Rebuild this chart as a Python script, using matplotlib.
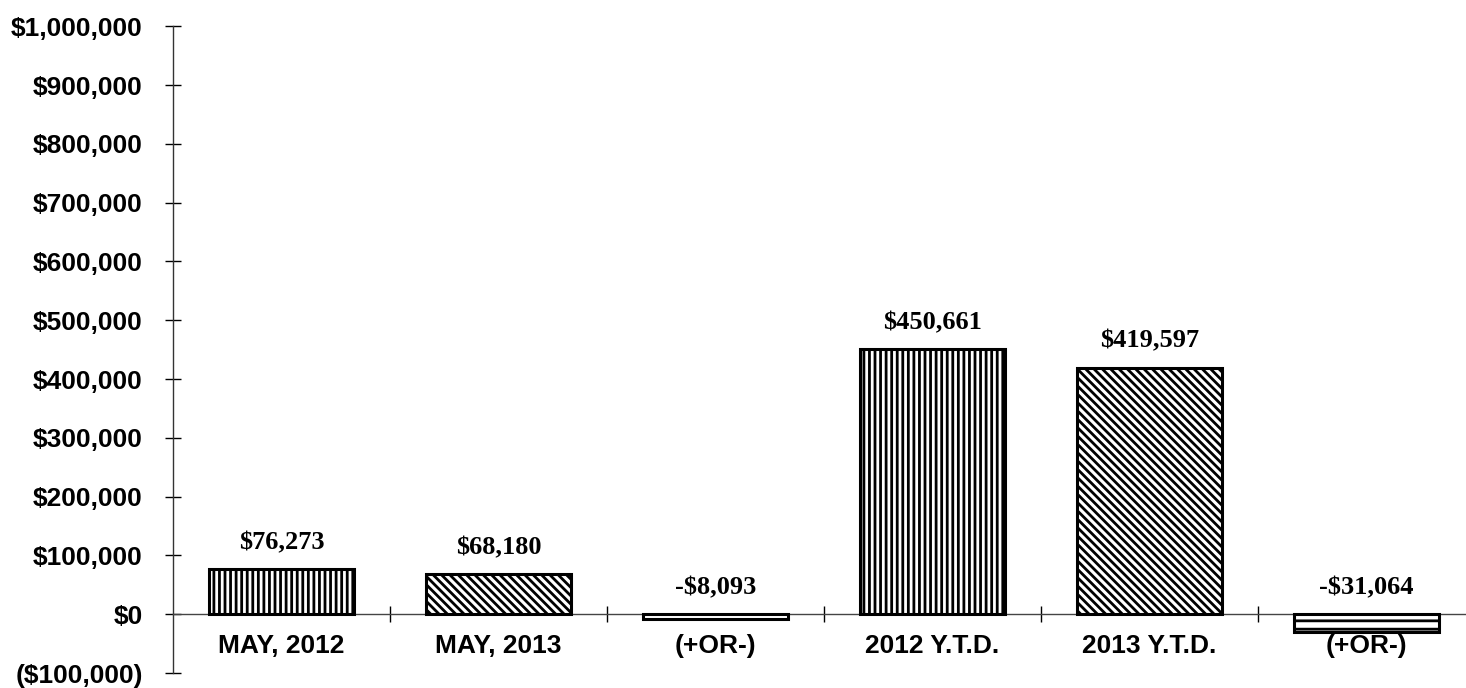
import matplotlib
matplotlib.use("Agg")
import matplotlib.pyplot as plt
from matplotlib.ticker import FuncFormatter, MultipleLocator, FixedLocator

# data
categories = ["MAY, 2012", "MAY, 2013", "(+OR-)", "2012 Y.T.D.", "2013 Y.T.D.", "(+OR-)"]
values = [76273, 68180, -8093, 450661, 419597, -31064]
value_labels = ["$76,273", "$68,180", "-$8,093", "$450,661", "$419,597", "-$31,064"]
hatches = ["|||", "\\\\\\\\", "--", "|||", "\\\\\\\\", "--"]

plt.rcParams["hatch.linewidth"] = 2.0
plt.rcParams["hatch.color"] = "black"

fig = plt.figure(figsize=(14.66, 6.88), dpi=100)
# axes wider than the figure on purpose: the last category runs off the page
ax = fig.add_axes([0.118, 0.0218, 0.888, 0.940])

x = list(range(len(categories)))
bars = ax.bar(x, values, width=0.67, color="white", edgecolor="black",
              linewidth=2.2, zorder=3)
for b, h in zip(bars, hatches):
    b.set_hatch(h)

for xi, v, lab in zip(x, values, value_labels):
    ax.annotate(lab, (xi, max(v, 0)), xytext=(0, 11), textcoords="offset points",
                ha="center", va="bottom", fontsize=19, fontweight="bold",
                family="Liberation Serif")

ax.set_xlim(-0.5, 5.5)
ax.set_ylim(-100000, 1000000)

for s in ["top", "right"]:
    ax.spines[s].set_visible(False)
ax.spines["bottom"].set_position(("data", 0))
ax.spines["bottom"].set_color("#444444")
ax.spines["bottom"].set_linewidth(1.0)
ax.spines["left"].set_color("#333333")
ax.spines["left"].set_linewidth(1.0)

ax.yaxis.set_major_locator(MultipleLocator(100000))


def money(v, pos):
    if v < 0:
        return "(${:,.0f})".format(-v)
    return "${:,.0f}".format(v)


ax.yaxis.set_major_formatter(FuncFormatter(money))
ax.tick_params(axis="y", direction="inout", length=11.5, width=1.0, pad=16,
               labelsize=19)

ax.set_xticks(x)
ax.set_xticklabels(categories)
ax.xaxis.set_minor_locator(FixedLocator([i + 0.5 for i in range(5)]))
ax.tick_params(axis="x", which="major", length=0, pad=14, labelsize=19)
ax.tick_params(axis="x", which="minor", direction="inout", length=11, width=1.0)

for t in ax.get_xticklabels() + ax.get_yticklabels():
    t.set_family("Liberation Sans")
    t.set_fontweight("bold")

fig.savefig("out.png", dpi=100)
